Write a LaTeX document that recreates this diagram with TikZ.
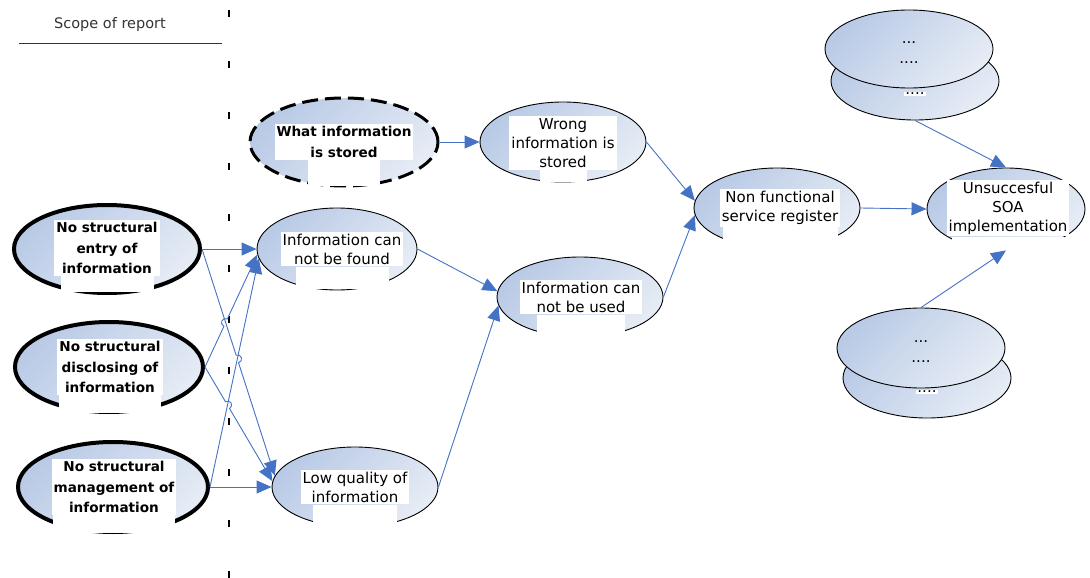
\documentclass[tikz,border=0pt]{standalone}
\usepackage{fontspec}
\setmainfont{DejaVu Sans}
\usetikzlibrary{shapes.geometric,arrows.meta,calc,intersections}
\definecolor{arrowblue}{HTML}{4472C4}
\definecolor{shadeA}{HTML}{B9CAE6}
\definecolor{shadeB}{HTML}{E6ECF5}
\definecolor{scopegray}{HTML}{333333}

\tikzset{
  bubble/.style 2 args={ellipse, draw=black, line width=0.9pt,
    minimum width=#1pt, minimum height=#2pt, inner sep=0pt,
    top color=shadeA, bottom color=shadeB, shading angle=45},
  rootcause/.style={line width=4pt},
  scopecause/.style={line width=3pt, dash pattern=on 16pt off 7pt},
  txtbox/.style={fill=white, align=center, inner xsep=2pt, inner ysep=2pt,
    font=\fontsize{15}{19}\selectfont},
  boldbox/.style={txtbox, font=\fontsize{13.6}{20.5}\selectfont\bfseries},
  dots/.style={align=center, inner sep=1pt, font=\fontsize{15}{20}\selectfont},
  patch/.style 2 args={fill=white, inner sep=0pt, minimum width=#1pt,
    minimum height=#2pt, anchor=north},
  conn/.style={draw=arrowblue, line width=0.9pt,
    -{Triangle[length=15pt,width=13pt]}},
  hop/.style={bend left=90, looseness=1.8},
}

\begin{document}
\begin{tikzpicture}[x=1pt,y=-1pt]
\useasboundingbox (0,0) rectangle (1090,578);

% scope header and boundary
\node[font=\fontsize{14.5}{16}\selectfont, text=scopegray] (scope) at (110,25) {Scope of report};
\coordinate (ruleL) at (19,43);
\coordinate (ruleR) at (222,43);
\draw[scopegray, line width=0.8pt] (ruleL) -- (ruleR);
\coordinate (bndTop) at (229,10);
\coordinate (bndBot) at (229,578);
\draw[black, line width=2pt, dash pattern=on 7pt off 44pt] (bndTop) -- (bndBot);

% root causes (left column)
\node[bubble={186}{88}, rootcause] (entry) at (107,249) {};
\node[boldbox] (entryT) at (107,248) {No structural\\entry of\\information};
\node[patch={93}{16}] (entryP) at (entryT.south) {};

\node[bubble={188}{90}, rootcause] (disc) at (109,367) {};
\node[boldbox] (discT) at (110,367) {No structural\\disclosing of\\information};
\node[patch={102}{18}] (discP) at (discT.south) {};

\node[bubble={190}{90}, rootcause] (mgmt) at (113,487) {};
\node[boldbox] (mgmtT) at (114,487) {No structural\\management of\\information};
\node[patch={122}{18}] (mgmtP) at (mgmtT.south) {};

% intermediate causes
\node[bubble={188}{88}, scopecause] (what) at (344,142) {};
\node[boldbox] (whatT) at (344,142) {What information\\is stored};
\node[patch={72}{26}] (whatP) at (whatT.south) {};

\node[bubble={166}{80}] (wrong) at (563,142) {};
\node[txtbox] (wrongT) at (563,143) {Wrong\\information is\\stored};
\node[patch={47}{12}] (wrongP) at (wrongT.south) {};

\node[bubble={160}{82}] (found) at (337,249) {};
\node[txtbox] (foundT) at (342,249) {Information can\\not be found};
\node[patch={93}{22}] (foundP) at (foundT.south) {};

\node[bubble={166}{80}] (lowq) at (355,487) {};
\node[txtbox] (lowqT) at (355,487) {Low quality of\\information};
\node[patch={84}{24}] (lowqP) at (lowqT.south) {};

\node[bubble={166}{80}] (used) at (580,297) {};
\node[txtbox] (usedT) at (581,297) {Information can\\not be used};
\node[patch={88}{23}] (usedP) at (usedT.south) {};

\node[bubble={166}{80}] (nonfunc) at (777,208) {};
\node[txtbox] (nonfuncT) at (780,208) {Non functional\\service register};
\node[patch={115}{22}] (nonfuncP) at (nonfuncT.south) {};

\node[bubble={158}{82}] (unsucc) at (1006,209) {};
\node[txtbox] (unsuccT) at (1008,208) {Unsuccesful\\SOA\\implementation};
\node[patch={112}{15}] (unsuccP) at (unsuccT.south) {};

% other contributing causes (stacked)
\node[bubble={168}{78}] (topB) at (915,81) {};
\node[dots, fill=white] (topBt) at (915,94) {....};
\node[bubble={168}{78}] (topA) at (909,49) {};
\node[dots] (topAt) at (909,53) {...\\....};

\node[bubble={168}{80}] (botB) at (927,378) {};
\node[dots, fill=white] (botBt) at (927,392) {....};
\node[bubble={168}{80}] (botA) at (921,348) {};
\node[dots] (botAt) at (921,352) {...\\....};

% connectors
\draw[conn] (what.east) -- (wrong.west);
\draw[conn] (wrong.east) -- (nonfunc.175);
\draw[conn] (used.east) -- (nonfunc.185);
\draw[conn] (nonfunc.east) -- (unsucc.west);
\draw[conn] (topB.south) -- (unsucc.north);
\draw[conn] (botA.north) -- (unsucc.south);
\draw[conn] (found.east) -- (used.176);
\draw[conn] (lowq.east) -- (used.186);
\draw[conn] (entry.east) -- (found.west);
\draw[conn] (mgmt.east) -- (lowq.west);

% crossing connectors with line hops
\path[name path=pA] (entry.east) -- (lowq.172);
\path[name path=pB] (disc.east) -- (found.184);
\path[name path=pC] (disc.east) -- (lowq.176);
\path[name path=pD] (mgmt.east) -- (found.187);
\path[name intersections={of=pA and pB, by=xAB}];
\path[name intersections={of=pA and pD, by=xAD}];
\path[name intersections={of=pC and pD, by=xCD}];

\draw[conn] (entry.east) -- ($(xAD)!4pt!(entry.east)$)
  to[hop] ($(xAD)!4pt!(lowq.172)$) -- (lowq.172);
\draw[conn] (disc.east) -- ($(xAB)!4pt!(disc.east)$)
  to[hop] ($(xAB)!4pt!(found.184)$) -- (found.184);
\draw[conn] (disc.east) -- ($(xCD)!4pt!(disc.east)$)
  to[hop] ($(xCD)!4pt!(lowq.176)$) -- (lowq.176);
\draw[conn] (mgmt.east) -- (found.187);
\end{tikzpicture}
\end{document}
